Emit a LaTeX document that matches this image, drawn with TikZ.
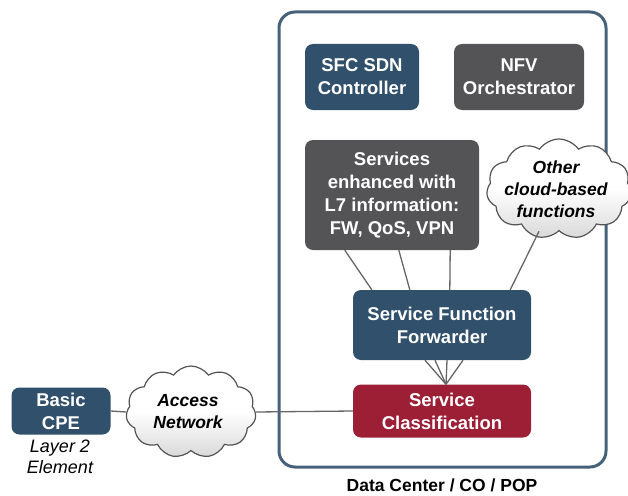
\documentclass[tikz,border=0pt]{standalone}
\usepackage{fontspec}
\setmainfont{Liberation Sans}
\usetikzlibrary{shapes.symbols}

\definecolor{dcblue}{HTML}{31506B}
\definecolor{dcgray}{HTML}{545456}
\definecolor{dcred}{HTML}{9C1F35}
\definecolor{dcline}{HTML}{666666}

\tikzstyle{boxes} = [rectangle, rounded corners=8pt, align=center, text=white,
font=\fontsize{18.5}{23}\selectfont\bfseries, inner sep=2pt]
\tikzstyle{bluebox} = [boxes, fill=dcblue]
\tikzstyle{graybox} = [boxes, fill=dcgray]
\tikzstyle{redbox} = [boxes, fill=dcred]
\tikzstyle{puff} = [cloud, cloud puffs=11, cloud puff arc=110, draw=dcgray, line width=1.2pt,
top color=white, bottom color=gray!30, middle color=white, inner sep=0pt]
\tikzstyle{pufftext} = [align=center, font=\fontsize{17.5}{22}\selectfont\bfseries\itshape]
\tikzstyle{link} = [draw=dcline, line width=1.3pt]

\begin{document}
\begin{tikzpicture}[x=1pt, y=-1pt]

    \useasboundingbox (0,0) rectangle (628,495);

    % data center frame
    \draw[dcblue!90, line width=3pt, rounded corners=16pt] (279,12) rectangle (606,467);
    \node (dc) at (442,485) {\fontsize{17.5}{21}\selectfont\bfseries Data Center / CO / POP};

    \node (sdn) [bluebox, minimum width=114pt, minimum height=66pt] at (362,77) {SFC SDN\\Controller};

    \node (nfv) [graybox, minimum width=130pt, minimum height=66pt] at (519,77) {NFV\\Orchestrator};

    \node (svc) [graybox, minimum width=174pt, minimum height=110pt] at (392,195)
        {Services\\enhanced with\\L7 information:\\FW, QoS, VPN};

    \node (other) [puff, minimum width=145pt, minimum height=100pt] at (559,189) {};
    \node (othertext) [pufftext] at ([xshift=-3pt]other.center) {Other\\cloud-based\\functions};

    \node (sff) [bluebox, minimum width=178pt, minimum height=70pt] at (442,325) {Service Function\\Forwarder};

    \node (cls) [redbox, minimum width=178pt, minimum height=53pt] at (442,411) {Service\\Classification};

    \node (cpe) [bluebox, minimum width=99pt, minimum height=47pt] at (61,411) {Basic\\CPE};

    \node (l2) [align=center, font=\fontsize{18}{21}\selectfont\itshape] at (60,457) {Layer 2\\Element};

    \node (acc) [puff, minimum width=130pt, minimum height=92pt] at (191,412) {};
    \node (acctext) [pufftext] at ([xshift=-3pt]acc.center) {Access\\Network};

    % connectors
    \draw[link] ([xshift=40pt]svc.south west) -- ([xshift=19pt]sff.north west);
    \draw[link] ([xshift=94pt]svc.south west) -- ([xshift=57pt]sff.north west);
    \draw[link] ([xshift=-29pt]svc.south east) -- ([xshift=97pt]sff.north west);
    \draw[link] ([xshift=-20pt]other.south) -- ([xshift=-21pt]sff.north east);

    \foreach \dx in {-17,-7,5,21}
        \draw[link] ([xshift=\dx pt]sff.south) -- ([xshift=4pt]cls.north);

    \draw[link] (cpe.east) -- (acc.west);
    \draw[link] (acc.east) -- (cls.west);

\end{tikzpicture}
\end{document}
